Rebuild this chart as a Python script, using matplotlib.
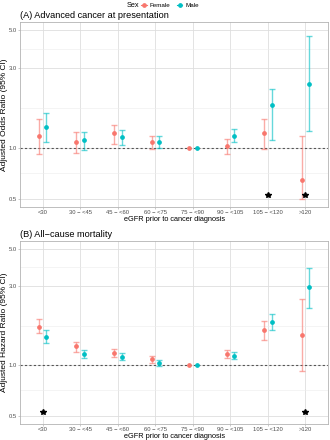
import numpy as np
import matplotlib.pyplot as plt
from matplotlib.lines import Line2D

plt.rcParams['font.family'] = ['Liberation Sans', 'DejaVu Sans']

# ---------------- data ----------------
categories = ["<30", "30 \u2212 <45", "45 \u2212 <60", "60 \u2212 <75",
              "75 \u2212 <90", "90 \u2212 <105", "105 \u2212 <120", ">120"]

# (A) advanced cancer at presentation, odds ratios
adv_f_est = [1.17, 1.085, 1.22, 1.085, 1.0, 1.02, 1.22, 0.648]
adv_f_lo = [0.925, 0.934, 1.056, 0.986, np.nan, 0.925, 0.98, 0.50]
adv_f_hi = [1.49, 1.25, 1.36, 1.17, np.nan, 1.13, 1.49, 1.18]
adv_m_est = [1.33, 1.11, 1.156, 1.085, 1.0, 1.18, 1.80, 2.41]
adv_m_lo = [1.09, 0.973, 1.04, 1.0, np.nan, 1.085, 1.12, 1.26]
adv_m_hi = [1.62, 1.25, 1.27, 1.17, np.nan, 1.29, 2.24, 4.6]
adv_stars = [6, 7]

# (B) all-cause mortality, hazard ratios
mort_f_est = [1.71, 1.30, 1.19, 1.09, 1.0, 1.17, 1.63, 1.52]
mort_f_lo = [1.56, 1.21, 1.13, 1.03, np.nan, 1.10, 1.42, 0.93]
mort_f_hi = [1.89, 1.38, 1.26, 1.14, np.nan, 1.23, 1.85, 2.5]
mort_m_est = [1.48, 1.17, 1.12, 1.03, 1.0, 1.14, 1.82, 2.94]
mort_m_lo = [1.36, 1.11, 1.07, 0.99, np.nan, 1.09, 1.64, 2.21]
mort_m_hi = [1.62, 1.245, 1.18, 1.07, np.nan, 1.20, 2.02, 3.85]
mort_stars = [0, 7]

FEMALE = '#F8766D'
MALE = '#00BFC4'
STAR_Y = 0.525


def draw_panel(ax, title, ylabel, f, m, stars):
    x = np.arange(len(categories))
    for (est, lo, hi), col, off in [(f, FEMALE, -0.1), (m, MALE, 0.1)]:
        est, lo, hi = np.array(est), np.array(lo), np.array(hi)
        ok = ~np.isnan(lo)
        ax.errorbar(x[ok] + off, est[ok], yerr=[est[ok] - lo[ok], hi[ok] - est[ok]],
                    fmt='none', ecolor=col, alpha=0.6, elinewidth=1.0,
                    capsize=2.0, capthick=1.0, zorder=3)
        ax.plot(x + off, est, 'o', color=col, markersize=2.4, zorder=4)
    ax.axhline(1.0, color='#555555', lw=0.8, ls=(0, (2, 2)), zorder=2)
    ax.plot(stars, [STAR_Y] * len(stars), '*', color='black', markersize=4.2, zorder=5)

    ax.set_yscale('log')
    ax.set_ylim(0.445, 5.6)
    ax.set_yticks([0.5, 1.0, 3.0, 5.0])
    ax.set_yticklabels(['0.5', '1.0', '3.0', '5.0'])
    ax.set_yticks([np.sqrt(0.5), np.sqrt(3), np.sqrt(15)], minor=True)
    ax.yaxis.set_minor_formatter(plt.NullFormatter())
    ax.set_xlim(-0.6, len(categories) - 0.4)
    ax.set_xticks(x)
    ax.set_xticklabels(categories)

    ax.grid(True, which='major', color='#DEDEDE', lw=0.6)
    ax.grid(True, which='minor', axis='y', color='#EDEDED', lw=0.4)
    ax.set_axisbelow(True)
    for s in ax.spines.values():
        s.set_color('#B3B3B3')
        s.set_linewidth(0.6)
    ax.tick_params(axis='both', which='major', labelsize=4.2, colors='#B3B3B3',
                   labelcolor='#4D4D4D', length=1.5, width=0.5, pad=1)
    ax.tick_params(axis='y', which='minor', length=0)
    ax.set_title(title, loc='left', fontsize=6.6, pad=3)
    ax.set_ylabel(ylabel, fontsize=6.0, labelpad=0.5)
    ax.set_xlabel('eGFR prior to cancer diagnosis', fontsize=5.3, labelpad=0.5)


fig = plt.figure(figsize=(3.3, 4.4), dpi=100)
ax1 = fig.add_axes([0.061, 0.5295, 0.933, 0.4205])
ax2 = fig.add_axes([0.061, 0.0364, 0.933, 0.4166])

draw_panel(ax1, '(A) Advanced cancer at presentation', 'Adjusted Odds Ratio (95% CI)',
           (adv_f_est, adv_f_lo, adv_f_hi), (adv_m_est, adv_m_lo, adv_m_hi), adv_stars)
draw_panel(ax2, '(B) All\u2212cause mortality', 'Adjusted Hazard Ratio (95% CI)',
           (mort_f_est, mort_f_lo, mort_f_hi), (mort_m_est, mort_m_lo, mort_m_hi), mort_stars)

# legend at top
fig.text(127 / 330, 1 - 5.5 / 440, 'Sex', fontsize=5.3, ha='left', va='center')
handles = [Line2D([0], [0], color=c, marker='o', markersize=2.4, lw=0.8)
           for c in (FEMALE, MALE)]
fig.legend(handles, ['Female', 'Male'], loc='center left',
           bbox_to_anchor=(141 / 330, 1 - 5.5 / 440), ncol=2, frameon=False,
           fontsize=4.5, handlelength=0.9, handletextpad=0.5,
           columnspacing=1.0, borderpad=0, borderaxespad=0)

fig.savefig('out.png', dpi=100)
